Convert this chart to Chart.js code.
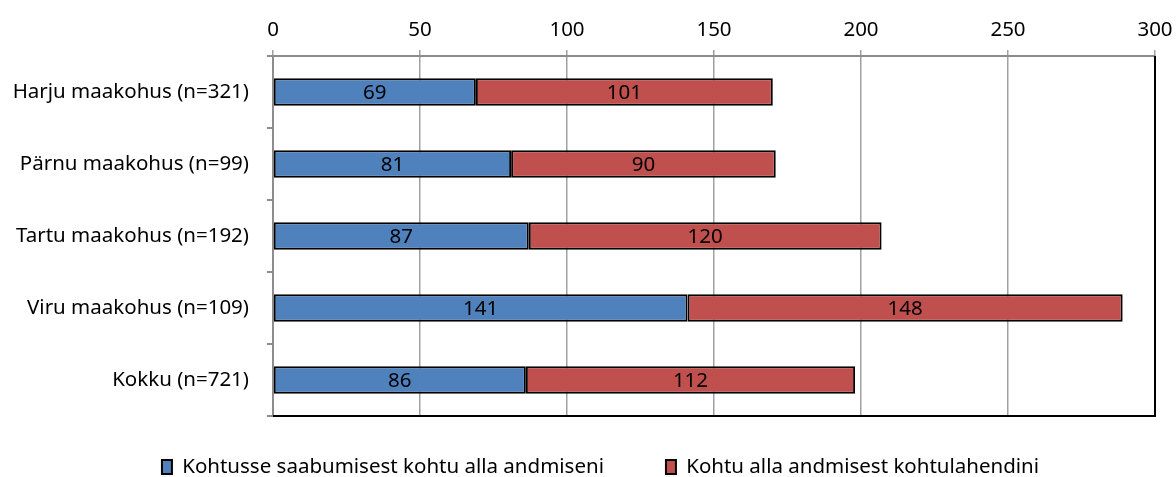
<!DOCTYPE html>
<html>
<head>
<meta charset="utf-8">
<script src="https://cdn.jsdelivr.net/npm/chart.js@4.4.1/dist/chart.umd.min.js"></script>
<style>
  html, body { margin: 0; padding: 0; background: #fff; }
  #wrap { width: 1176px; height: 477px; }
</style>
</head>
<body>
<div id="wrap"><canvas id="chart"></canvas></div>
<script>
// Data
const courts = ['Harju maakohus (n=321)', 'Pärnu maakohus (n=99)', 'Tartu maakohus (n=192)', 'Viru maakohus (n=109)', 'Kokku (n=721)'];
const toHandover = [69, 81, 87, 141, 86];
const toDecision = [101, 90, 120, 148, 112];
const seriesNames = ['Kohtusse saabumisest kohtu alla andmiseni', 'Kohtu alla andmisest kohtulahendini'];
const xTicks = [0, 50, 100, 150, 200, 250, 300];

const FONT = 'Noto Sans';
const FSIZE = 20.5;
const LEGEND_PAD = 62;

// value labels in the middle of each bar segment
const barLabels = {
    id: 'barLabels',
    afterDatasetsDraw(chart) {
        const ctx = chart.ctx;
        ctx.save();
        ctx.font = `${FSIZE}px "${FONT}"`;
        ctx.fillStyle = '#000';
        ctx.textAlign = 'center';
        ctx.textBaseline = 'middle';
        chart.data.datasets.forEach((ds, i) => {
            chart.getDatasetMeta(i).data.forEach((bar, j) => {
                const p = bar.getProps(['x', 'y', 'base'], true);
                ctx.fillText(String(ds.data[j]), (p.x + p.base) / 2, p.y + 1);
            });
        });
        ctx.restore();
    },
};

// black frame on the right and bottom of plot area
const plotFrame = {
    id: 'plotFrame',
    afterDraw(chart) {
        const { ctx, chartArea: a } = chart;
        ctx.save();
        ctx.strokeStyle = '#000';
        ctx.lineWidth = 2;
        ctx.beginPath();
        ctx.moveTo(a.left, a.bottom);
        ctx.lineTo(a.right, a.bottom);
        ctx.lineTo(a.right, a.top);
        ctx.stroke();
        ctx.restore();
    },
};

// keep the legend band the same height as in the reference, text row at y~467
const legendBand = {
    id: 'legendBand',
    afterInit(chart) {
        const lg = chart.legend;
        const fit = lg.fit;
        lg.fit = function () {
            fit.call(this);
            this.height = 61;
        };
    },
    afterLayout(chart) {
        const lg = chart.legend;
        lg.top = 467 - LEGEND_PAD - FSIZE / 2;
        lg.bottom = chart.height;
        lg.height = lg.bottom - lg.top;
        lg.left = 25;
        lg.right = chart.width;
        lg.width = lg.right - lg.left;
    },
};

new Chart(document.getElementById('chart'), {
    type: 'bar',
    data: {
        labels: courts,
        datasets: [
            { label: seriesNames[0], data: toHandover, backgroundColor: '#4f81bd', borderColor: '#000', borderWidth: 2, borderSkipped: false },
            { label: seriesNames[1], data: toDecision, backgroundColor: '#c0504d', borderColor: '#000', borderWidth: 2, borderSkipped: false },
        ],
    },
    options: {
        indexAxis: 'y',
        responsive: true,
        maintainAspectRatio: false,
        animation: false,
        layout: { padding: { left: 0, right: 21, top: 0, bottom: 0 } },
        datasets: { bar: { categoryPercentage: 1, barPercentage: 0.38 } },
        plugins: {
            legend: {
                position: 'bottom',
                labels: {
                    color: '#000',
                    font: { family: FONT, size: FSIZE },
                    boxWidth: 10,
                    boxHeight: 14,
                    padding: LEGEND_PAD,
                },
            },
            tooltip: { enabled: false },
        },
        scales: {
            x: {
                position: 'top',
                stacked: true,
                min: 0,
                max: 300,
                afterBuildTicks: (scale) => { scale.ticks = xTicks.map(v => ({ value: v })); },
                afterFit: (scale) => {
                    scale.height = 56;
                    scale.paddingLeft = 0;
                    scale.paddingRight = 0;
                },
                ticks: { color: '#000', font: { family: FONT, size: FSIZE }, padding: 8 },
                grid: { color: '#a0a0a0', lineWidth: 1.5, tickLength: 6 },
                border: { color: '#8c8c8c', width: 2 },
            },
            y: {
                stacked: true,
                afterFit: (scale) => { scale.width = 273; },
                ticks: { color: '#000', font: { family: FONT, size: FSIZE }, padding: 18 },
                grid: { drawOnChartArea: false, color: '#8c8c8c', lineWidth: 2, tickLength: 6 },
                border: { color: '#8c8c8c', width: 2 },
            },
        },
    },
    plugins: [barLabels, plotFrame, legendBand],
});
</script>
</body>
</html>
